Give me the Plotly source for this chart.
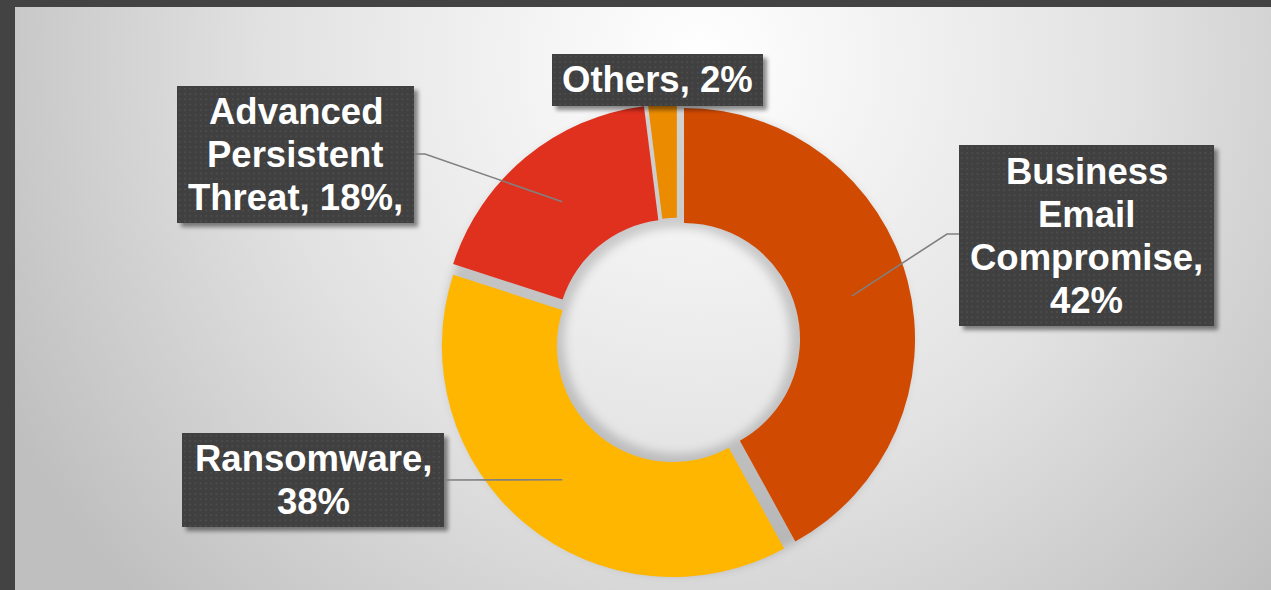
import base64
import math
import plotly.graph_objects as go

# ---- data -------------------------------------------------------------
categories = ["Business Email Compromise", "Ransomware", "Advanced Persistent Threat", "Others"]
values = [42, 38, 18, 2]
colors = ["#D04A02", "#FFB600", "#E0301E", "#EB8C00"]
label_lines = [
    ["Business", "Email", "Compromise,", "{v}%"],
    ["Ransomware,", "{v}%"],
    ["Advanced", "Persistent", "Threat, {v}%,"],
    ["Others, {v}%"],
]

# ---- layout constants (pixels) ---------------------------------------
W, H = 1271, 590
CX, CY = 677.3, 340.7       # donut centre
R_OUT, R_IN = 231.0, 116.0  # outer / inner radius
PULL = 0.03                 # explosion of every slice

# label boxes: left, top, right, bottom
boxes = [
    (959, 145, 1214, 326),
    (182, 433, 444, 527),
    (177, 86, 414, 223),
    (552, 54, 763, 106),
]
# leader lines: start on box edge, optional elbow
leader_start = [(959, 234), (444, 480), (414, 154), None]
leader_elbow = [(947, 234), None, (425, 154), None]

FONT = "Liberation Sans, Arial, sans-serif"
FONT_SIZE = 36.5
LINE_GAP = 43


def fx(x):
    return x / W


def fy(y):
    return 1 - y / H


def svg_uri(svg):
    return "data:image/svg+xml;base64," + base64.b64encode(svg.encode()).decode()


fig = go.Figure()

half = R_OUT * (1 + PULL)
fig.add_trace(go.Pie(
    labels=categories, values=values, sort=False, direction="clockwise", rotation=0,
    hole=R_IN / R_OUT, pull=[PULL] * len(values),
    textinfo="none", hoverinfo="label+percent", showlegend=False,
    marker=dict(colors=colors, line=dict(width=0)),
    domain=dict(x=[fx(CX - half), fx(CX + half)], y=[fy(CY + half), fy(CY - half)]),
))

# background: radial grey gradient, dark frame strips and a soft ring shadow
ro, ri = R_OUT + 3, R_IN - 3
ring = (f"M {CX - ro},{CY} a {ro},{ro} 0 1,0 {2 * ro},0 a {ro},{ro} 0 1,0 {-2 * ro},0 Z "
        f"M {CX - ri},{CY} a {ri},{ri} 0 1,0 {2 * ri},0 a {ri},{ri} 0 1,0 {-2 * ri},0 Z")
bg_svg = f"""<svg xmlns="http://www.w3.org/2000/svg" width="{W}" height="{H}" viewBox="0 0 {W} {H}" preserveAspectRatio="none">
<defs><radialGradient id="g" gradientUnits="userSpaceOnUse" cx="700" cy="60" r="780">
<stop offset="0" stop-color="#ffffff"/><stop offset="0.55" stop-color="#e2e2e2"/><stop offset="1" stop-color="#bfbfbf"/></radialGradient>
<filter id="b" x="-20%" y="-20%" width="140%" height="140%"><feGaussianBlur stdDeviation="5"/></filter></defs>
<rect width="{W}" height="{H}" fill="url(#g)"/>
<path d="{ring}" fill="#000" fill-opacity="0.17" fill-rule="evenodd" filter="url(#b)"/>
<rect x="0" y="0" width="{W}" height="7" fill="#434343"/>
<rect x="0" y="0" width="15" height="{H}" fill="#434343"/>
</svg>"""

images = [dict(source=svg_uri(bg_svg), xref="paper", yref="paper", x=0, y=1,
               sizex=1, sizey=1, xanchor="left", yanchor="top",
               sizing="stretch", layer="below")]

# label boxes with dotted texture and drop shadow
for (l, t, r, b) in boxes:
    bw, bh = r - l, b - t
    pad = 10
    box_svg = f"""<svg xmlns="http://www.w3.org/2000/svg" width="{bw + pad}" height="{bh + pad}" viewBox="0 0 {bw + pad} {bh + pad}" preserveAspectRatio="none">
<defs>
<filter id="s" x="-10%" y="-10%" width="130%" height="130%"><feGaussianBlur stdDeviation="2.2"/></filter>
<pattern id="d" width="5.3" height="5.3" patternUnits="userSpaceOnUse">
<rect width="5.3" height="5.3" fill="#404040"/><rect x="2" y="2" width="1.4" height="1.4" fill="#545454"/></pattern>
</defs>
<rect x="4" y="4" width="{bw}" height="{bh}" fill="#000" fill-opacity="0.45" filter="url(#s)"/>
<rect x="0" y="0" width="{bw}" height="{bh}" fill="url(#d)"/>
</svg>"""
    images.append(dict(source=svg_uri(box_svg), xref="paper", yref="paper",
                       x=fx(l), y=fy(t), sizex=(bw + pad) / W, sizey=(bh + pad) / H,
                       xanchor="left", yanchor="top", sizing="stretch", layer="above"))

# leader lines to the middle of each slice's ring
total = sum(values)
shapes = []
cum = 0
for i, v in enumerate(values):
    theta = 2 * math.pi * (cum + v / 2) / total
    cum += v
    if leader_start[i] is None:
        continue
    rr = (R_OUT + R_IN) / 2 + PULL * R_OUT
    px, py = CX + rr * math.sin(theta), CY - rr * math.cos(theta)
    pts = [leader_start[i]]
    if leader_elbow[i] is not None:
        pts.append(leader_elbow[i])
    pts.append((px, py))
    path = "M " + " L ".join(f"{fx(x):.5f},{fy(y):.5f}" for x, y in pts)
    shapes.append(dict(type="path", path=path, xref="paper", yref="paper",
                       line=dict(color="#808080", width=1.6), layer="above"))

# label text, one annotation per line
annotations = []
for i, v in enumerate(values):
    l, t, r, b = boxes[i]
    lines = [s.format(v=v) for s in label_lines[i]]
    n = len(lines)
    mid = (t + b) / 2
    for k, s in enumerate(lines):
        yc = mid + (k - (n - 1) / 2) * LINE_GAP
        annotations.append(dict(text=f"<b>{s}</b>", x=fx((l + r) / 2), y=fy(yc),
                                xref="paper", yref="paper", xanchor="center", yanchor="middle",
                                showarrow=False,
                                font=dict(family=FONT, size=FONT_SIZE, color="#ffffff")))

fig.update_layout(
    width=W, height=H, margin=dict(l=0, r=0, t=0, b=0),
    paper_bgcolor="#d9d9d9", plot_bgcolor="rgba(0,0,0,0)",
    images=images, shapes=shapes, annotations=annotations,
)

fig.write_html("out.html", config={"displayModeBar": False})
